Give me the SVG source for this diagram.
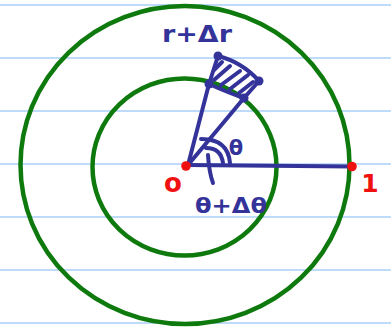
<svg xmlns="http://www.w3.org/2000/svg" width="391" height="327" viewBox="0 0 391 327">
<style>
.rule{stroke:#a9d1f7;stroke-width:1.6}
.green{fill:none;stroke:#0e7a0e;stroke-width:4.5}
.blue{fill:none;stroke:#33339a;stroke-width:4;stroke-linecap:round;stroke-linejoin:round}
.bdot{fill:#33339a}
.rdot{fill:#f01010}
.bt{font-family:"DejaVu Sans",sans-serif;font-weight:bold;fill:#33339a}
.rt{font-family:"DejaVu Sans",sans-serif;font-weight:bold;fill:#f01010}
</style>
<rect width="391" height="327" fill="#ffffff"/>
<g id="rules">
<line class="rule" x1="0" y1="5" x2="391" y2="5"/>
<line class="rule" x1="0" y1="58" x2="391" y2="58"/>
<line class="rule" x1="0" y1="111" x2="391" y2="111"/>
<line class="rule" x1="0" y1="164" x2="391" y2="164"/>
<line class="rule" x1="0" y1="217" x2="391" y2="217"/>
<line class="rule" x1="0" y1="270" x2="391" y2="270"/>
<line class="rule" x1="0" y1="323" x2="391" y2="323"/>
</g>
<g id="outer-circle"><ellipse class="green" cx="185" cy="165" rx="164.5" ry="159"/></g>
<g id="inner-circle"><ellipse class="green" cx="184.5" cy="167" rx="92" ry="88.5"/></g>
<g id="connectors">
<line class="blue" x1="187" y1="165" x2="352" y2="166.5"/>
<path class="blue" d="M188 165 L209 84 L218 56"/>
<path class="blue" d="M188 165 L244 98 L259 81"/>
<path class="blue" d="M201 139 Q228 139 230 163"/>
<path class="blue" d="M206 148 Q221 148 223 163"/>
<path class="blue" d="M208 155 Q209 172 213 183"/>
</g>
<g id="sector">
<path class="blue" d="M218 56 Q242 62 259 81"/>
<path class="blue" d="M209 84 Q229 93 244 98"/>
<path class="blue" stroke-width="4" d="M214 70 L222 62 M214 80 L230 66 M221 85 L240 71 M230 89 L248 75 M239 93 L253 82"/>
<circle class="bdot" cx="218" cy="56" r="4.5"/>
<circle class="bdot" cx="259" cy="81" r="4.5"/>
<circle class="bdot" cx="209" cy="84" r="4.5"/>
<circle class="bdot" cx="244" cy="98" r="4.5"/>
</g>
<g id="origin">
<circle class="rdot" cx="186" cy="166" r="4.8"/>
<text class="rt" x="173" y="192" font-size="26" text-anchor="middle">o</text>
</g>
<g id="point-one">
<circle class="rdot" cx="352" cy="166.5" r="4.8"/>
<text class="rt" x="370" y="192" font-size="25" text-anchor="middle">1</text>
</g>
<g id="labels">
<text class="bt" x="197" y="42" font-size="23" text-anchor="middle" textLength="70" lengthAdjust="spacingAndGlyphs">r+Δr</text>
<text class="bt" x="236" y="155" font-size="21" text-anchor="middle">θ</text>
<text class="bt" x="231" y="213" font-size="22" text-anchor="middle" textLength="72" lengthAdjust="spacingAndGlyphs">θ+Δθ</text>
</g>
</svg>
